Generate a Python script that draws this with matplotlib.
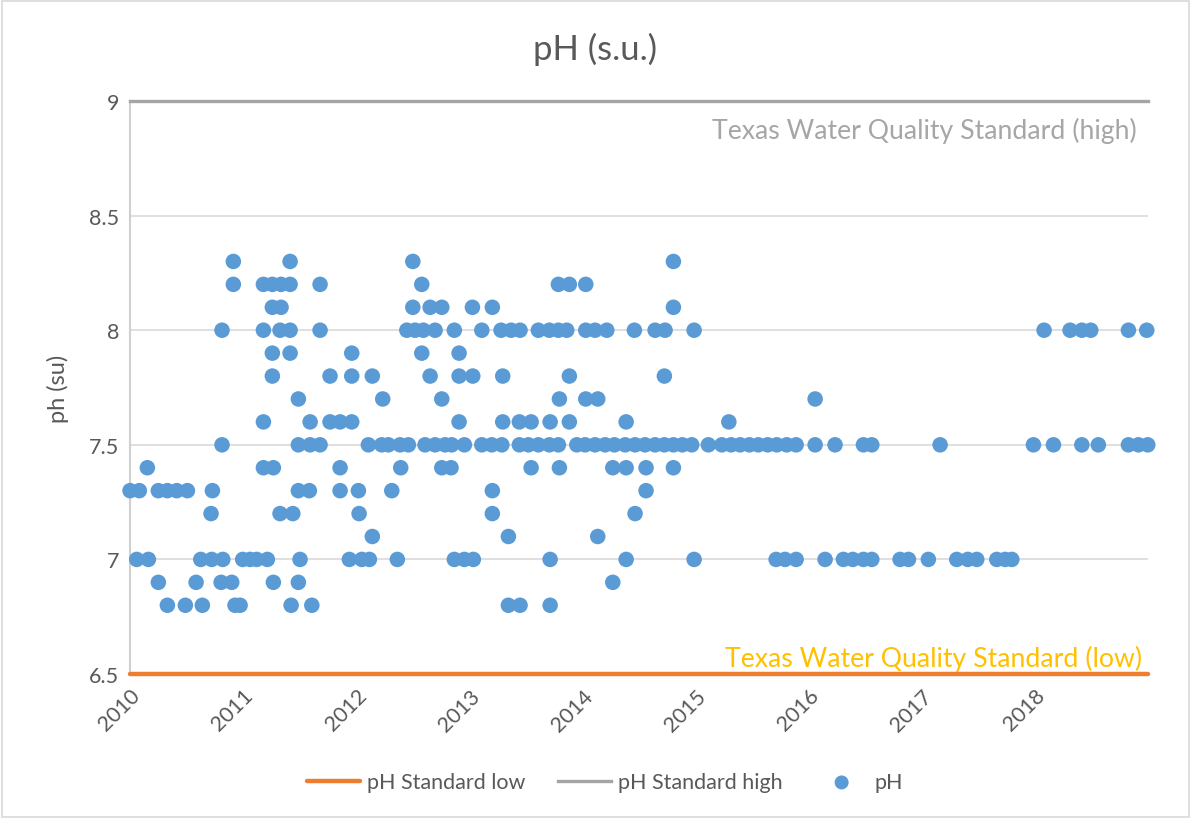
import matplotlib.pyplot as plt
import numpy as np
from matplotlib.patches import Rectangle

plt.rcParams["font.family"] = ["Lato", "DejaVu Sans"]

# sample dates (decimal years) grouped by measured pH value
years_8_3 = [2010.913, 2011.415, 2012.500, 2014.804]
years_8_2 = [2010.913, 2011.179, 2011.258, 2011.335, 2011.415, 2011.680, 2012.579,
             2013.787, 2013.884, 2014.029]
years_8_1 = [2011.258, 2011.335, 2012.500, 2012.653, 2012.756, 2013.027, 2013.203, 2014.804]
years_8_0 = [2010.813, 2011.179, 2011.326, 2011.415, 2011.680, 2012.447, 2012.520, 2012.593,
             2012.697, 2012.867, 2013.110, 2013.280, 2013.369, 2013.448, 2013.610, 2013.707,
             2013.787, 2013.861, 2014.029, 2014.111, 2014.215, 2014.459, 2014.642, 2014.730,
             2014.987, 2018.081, 2018.311, 2018.415, 2018.494, 2018.827, 2018.989]
years_7_9 = [2011.258, 2011.415, 2011.960, 2012.579, 2012.909]
years_7_8 = [2011.258, 2011.768, 2011.960, 2012.142, 2012.653, 2012.909, 2013.030, 2013.295,
             2013.884, 2014.724]
years_7_7 = [2011.488, 2012.234, 2012.756, 2013.796, 2014.029, 2014.135, 2016.057]
years_7_6 = [2011.179, 2011.592, 2011.768, 2011.857, 2011.960, 2012.909, 2013.295, 2013.442,
             2013.546, 2013.714, 2013.884, 2014.386, 2015.294]
years_7_5 = [2010.813, 2011.488, 2011.592, 2011.680, 2012.107, 2012.225, 2012.284, 2012.387,
             2012.461, 2012.608, 2012.697, 2012.785, 2012.844, 2012.956, 2013.110, 2013.198,
             2013.287, 2013.442, 2013.522, 2013.610, 2013.707, 2013.787, 2013.950, 2014.023,
             2014.111, 2014.200, 2014.282, 2014.377, 2014.465, 2014.553, 2014.642, 2014.724,
             2014.804, 2014.883, 2014.966, 2015.113, 2015.232, 2015.314, 2015.394, 2015.476,
             2015.555, 2015.638, 2015.718, 2015.806, 2015.889, 2016.057, 2016.233, 2016.484,
             2016.558, 2017.162, 2017.987, 2018.164, 2018.415, 2018.561, 2018.827, 2018.915,
             2018.998]
years_7_4 = [2010.153, 2011.179, 2011.267, 2011.857, 2012.393, 2012.756, 2012.838, 2013.546,
             2013.796, 2014.268, 2014.386, 2014.562, 2014.804]
years_7_3 = [2010.000, 2010.082, 2010.250, 2010.330, 2010.413, 2010.507, 2010.728, 2011.488,
             2011.585, 2011.857, 2012.019, 2012.314, 2013.203, 2014.562]
years_7_2 = [2010.716, 2011.326, 2011.439, 2012.025, 2013.203, 2014.465]
years_7_1 = [2012.142, 2013.345, 2014.135]
years_7_0 = [2010.059, 2010.162, 2010.625, 2010.722, 2010.820, 2010.996, 2011.061, 2011.120,
             2011.214, 2011.503, 2011.939, 2012.049, 2012.116, 2012.363, 2012.867, 2012.956,
             2013.035, 2013.714, 2014.386, 2014.987, 2015.712, 2015.791, 2015.889, 2016.145,
             2016.307, 2016.390, 2016.484, 2016.558, 2016.808, 2016.882, 2017.058, 2017.309,
             2017.407, 2017.486, 2017.663, 2017.737, 2017.796]
years_6_9 = [2010.250, 2010.584, 2010.805, 2010.899, 2011.267, 2011.488, 2014.268]
years_6_8 = [2010.330, 2010.489, 2010.639, 2010.928, 2010.973, 2011.424, 2011.607, 2013.345,
             2013.448, 2013.714]

ph_levels = [8.3, 8.2, 8.1, 8.0, 7.9, 7.8, 7.7, 7.6, 7.5, 7.4, 7.3, 7.2, 7.1, 7.0, 6.9, 6.8]
years_by_level = [years_8_3, years_8_2, years_8_1, years_8_0, years_7_9, years_7_8, years_7_7,
                  years_7_6, years_7_5, years_7_4, years_7_3, years_7_2, years_7_1, years_7_0,
                  years_6_9, years_6_8]

standard_low = 6.5
standard_high = 9.0
year_ticks = [2010, 2011, 2012, 2013, 2014, 2015, 2016, 2017, 2018]
x_range = [2010, 2019]

sample_year = np.concatenate([np.array(y) for y in years_by_level])
sample_ph = np.concatenate([np.full(len(y), v) for y, v in zip(years_by_level, ph_levels)])

fig = plt.figure(figsize=(11.91, 8.20), dpi=100)
ax = fig.add_axes([0.1092, 0.1768, 0.8547, 0.6988])

text_color = "#595959"

ax.set_xlim(x_range)
ax.set_ylim(6.5, 9.0)
ax.set_yticks([6.5, 7.0, 7.5, 8.0, 8.5, 9.0])
ax.set_yticklabels(["6.5", "7", "7.5", "8", "8.5", "9"])
ax.grid(axis="y", color="#D9D9D9", linewidth=1.2, zorder=0)
ax.set_xticks(year_ticks)
ax.set_xticklabels([str(y) for y in year_ticks], rotation=45, ha="right",
                   rotation_mode="anchor")
ax.tick_params(length=0, labelsize=15.5, colors=text_color, pad=8)
for side in ["top", "right", "bottom"]:
    ax.spines[side].set_visible(False)
ax.spines["left"].set_color("#D0D0D0")
ax.spines["left"].set_linewidth(1.5)

ax.plot(x_range, [standard_low, standard_low], color="#ED7D31", linewidth=3.2,
        solid_capstyle="round", label="pH Standard low", zorder=3, clip_on=False)
ax.plot(x_range, [standard_high, standard_high], color="#A5A5A5", linewidth=2.4,
        label="pH Standard high", zorder=3, clip_on=False)
ax.scatter(sample_year, sample_ph, s=125, color="#5B9BD5", edgecolors="none",
           label="pH", zorder=4, clip_on=False)

ax.text(2018.9, 8.875, "Texas Water Quality Standard (high)", color="#A6A6A6",
        fontsize=19.2, ha="right", va="center")
ax.text(2018.95, 6.57, "Texas Water Quality Standard (low)", color="#FFC000",
        fontsize=19.2, ha="right", va="center")

ax.set_ylabel("ph (su)", fontsize=17, color=text_color, labelpad=14)
fig.text(0.5, 0.94, "pH (s.u.)", fontsize=25, color=text_color, ha="center", va="center")

fig.legend(loc="center", bbox_to_anchor=(0.508, 0.045), ncol=3, frameon=False,
           fontsize=15.5, labelcolor=text_color, handlelength=2.5, handletextpad=0.3,
           columnspacing=1.5, markerscale=0.9)

fig.patches.append(Rectangle((0.002, 0.002), 0.996, 0.996, transform=fig.transFigure,
                             fill=False, edgecolor="#D9D9D9", linewidth=1.2))

fig.savefig("out.png", dpi=100)
plt.close(fig)
